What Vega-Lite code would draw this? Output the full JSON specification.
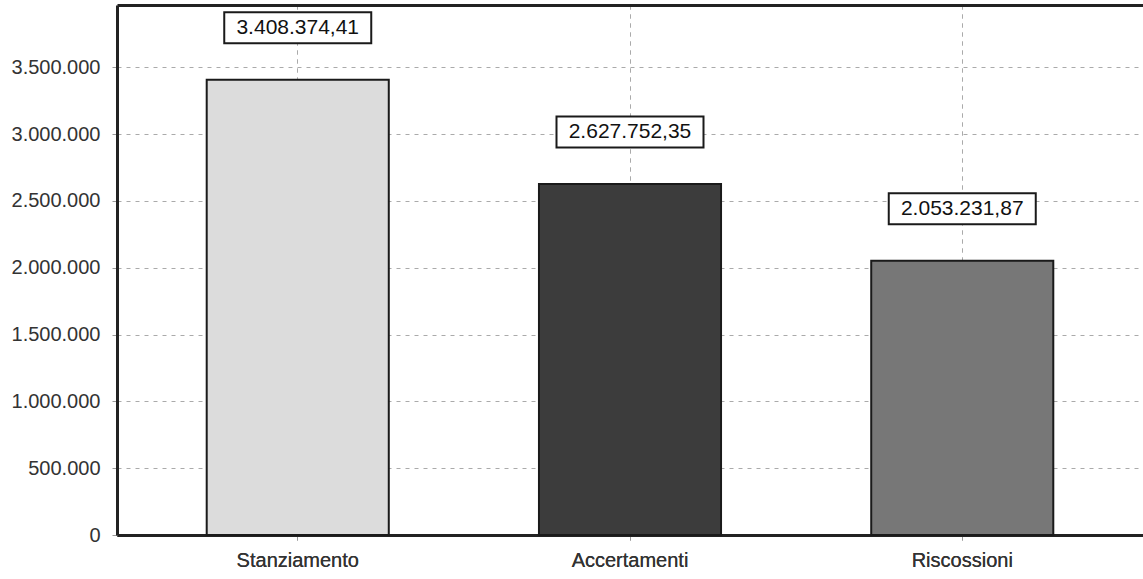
{
  "$schema": "https://vega.github.io/schema/vega-lite/v6.json",
  "width": 1026,
  "height": 530,
  "autosize": {"type": "none"},
  "padding": {"left": 117, "top": 5, "right": 0, "bottom": 44},
  "background": "white",
  "config": {
    "locale": {"number": {"decimal": ",", "thousands": ".", "grouping": [3], "currency": ["€", ""]}},
    "view": {"stroke": null},
    "font": "Liberation Sans"
  },
  "data": {
    "values": [
      {"voce": "Stanziamento", "importo": 3408374.41},
      {"voce": "Accertamenti", "importo": 2627752.35},
      {"voce": "Riscossioni", "importo": 2053231.87}
    ]
  },
  "encoding": {
    "x": {
      "field": "voce",
      "type": "nominal",
      "sort": null,
      "scale": {"paddingInner": 0.452, "paddingOuter": 0.27},
      "axis": {
        "title": null,
        "labelAngle": 0,
        "labelFontSize": 20,
        "labelColor": "#333333",
        "labelPadding": 10,
        "tickSize": 5,
        "tickColor": "#999999",
        "domainColor": "#222222",
        "domainWidth": 3,
        "grid": true,
        "gridDash": [4, 5],
        "gridColor": "#aaaaaa",
        "gridWidth": 1
      }
    },
    "y": {
      "field": "importo",
      "type": "quantitative",
      "scale": {"domain": [0, 3967000], "nice": false},
      "axis": {
        "title": null,
        "values": [0, 500000, 1000000, 1500000, 2000000, 2500000, 3000000, 3500000],
        "format": ",d",
        "labelFontSize": 20,
        "labelColor": "#333333",
        "labelPadding": 12,
        "tickSize": 5,
        "tickColor": "#999999",
        "domainColor": "#222222",
        "domainWidth": 3,
        "grid": true,
        "gridDash": [4, 5],
        "gridColor": "#aaaaaa",
        "gridWidth": 1
      }
    }
  },
  "layer": [
    {
      "mark": {"type": "bar", "stroke": "#1a1a1a", "strokeWidth": 2},
      "encoding": {
        "color": {
          "field": "voce",
          "type": "nominal",
          "scale": {"domain": ["Stanziamento", "Accertamenti", "Riscossioni"], "range": ["#dcdcdc", "#3c3c3c", "#777777"]},
          "legend": null
        }
      }
    },
    {
      "mark": {"type": "point", "shape": "M-1,-0.211H1V0.211H-1Z", "size": 21609, "filled": false, "fill": "white", "fillOpacity": 1, "stroke": "#1a1a1a", "strokeWidth": 2, "opacity": 1, "yOffset": -52},
      "encoding": {
        "x": {"field": "voce", "type": "nominal", "sort": null, "axis": {"orient": "top", "title": null, "labels": false, "ticks": false, "grid": false, "domainColor": "#222222", "domainWidth": 3}}
      }
    },
    {
      "mark": {"type": "text", "fontSize": 21, "color": "#111111", "baseline": "middle", "align": "center", "yOffset": -52},
      "encoding": {
        "text": {"field": "importo", "type": "quantitative", "format": ",.2f"}
      }
    }
  ],
  "resolve": {"axis": {"x": "independent"}}
}
